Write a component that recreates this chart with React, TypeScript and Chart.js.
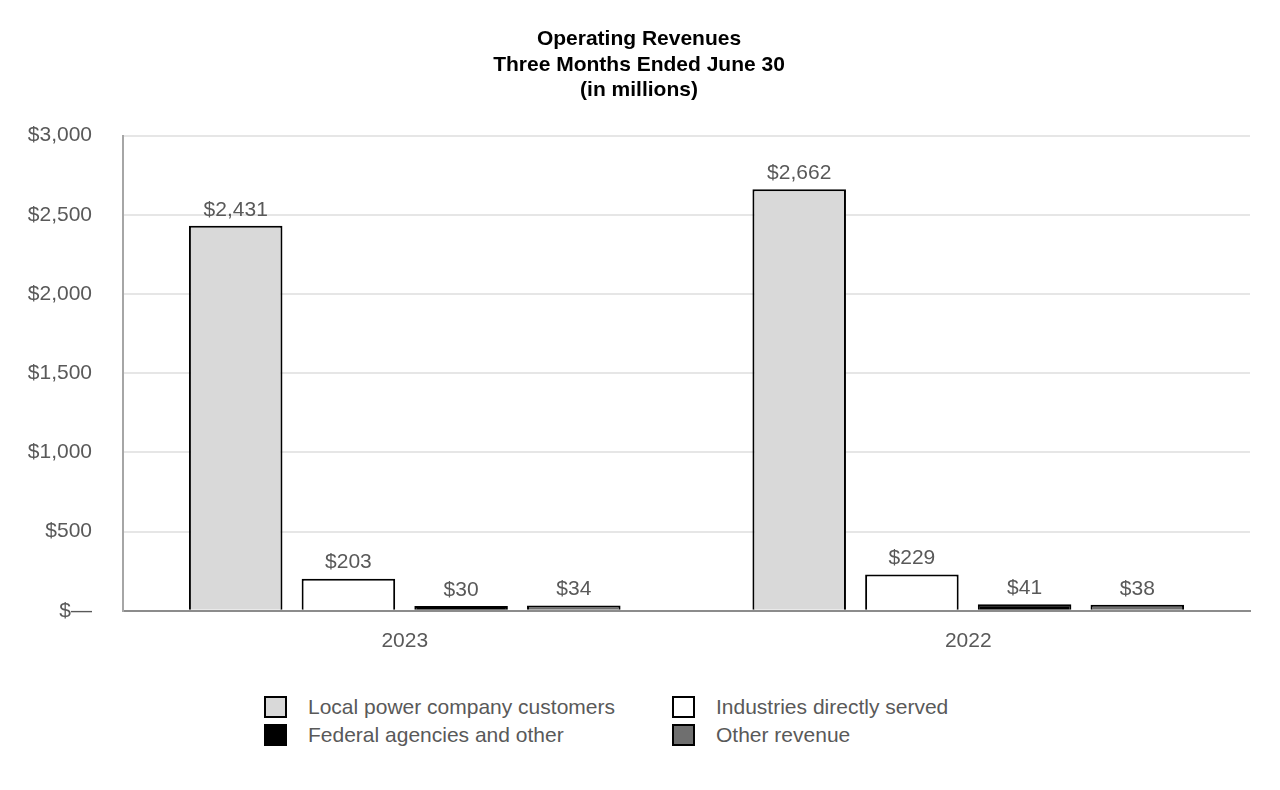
import React, { useEffect, useRef } from "react";
import { Chart, registerables } from "chart.js";

Chart.register(...registerables);

const titleLines = ["Operating Revenues", "Three Months Ended June 30", "(in millions)"];
const categories = ["2023", "2022"];
const seriesNames = [
  "Local power company customers",
  "Industries directly served",
  "Federal agencies and other",
  "Other revenue",
];
const localPower = [2431, 2662];
const industries = [203, 229];
const federal = [30, 41];
const otherRevenue = [34, 38];
const seriesColors = ["#d9d9d9", "#ffffff", "#000000", "#6f6f6f"];
const yTicks = [0, 500, 1000, 1500, 2000, 2500, 3000];

const FONT = "'Liberation Sans', Arial, sans-serif";
const TEXT = "#595959";

const fmt = (v: number) => (v === 0 ? "$—" : "$" + v.toLocaleString("en-US"));

const valueLabels = {
  id: "valueLabels",
  afterDatasetsDraw(chart: any) {
    const ctx = chart.ctx;
    ctx.save();
    ctx.font = `21px ${FONT}`;
    ctx.fillStyle = TEXT;
    ctx.textAlign = "center";
    ctx.textBaseline = "middle";
    chart.data.datasets.forEach((ds: any, i: number) => {
      const meta = chart.getDatasetMeta(i);
      meta.data.forEach((el: any, j: number) => {
        ctx.fillText(fmt(ds.data[j]), el.x, el.y - 16);
      });
    });
    ctx.restore();
  },
};

export default function App() {
  const ref = useRef<HTMLCanvasElement>(null);
  useEffect(() => {
    if (!ref.current) return;
    const seriesData = [localPower, industries, federal, otherRevenue];
    const chart = new Chart(ref.current, {
      type: "bar",
      data: {
        labels: categories,
        datasets: seriesNames.map((name, i) => ({
          label: name,
          data: seriesData[i],
          backgroundColor: seriesColors[i],
          borderColor: "#000000",
          borderWidth: 2,
          borderSkipped: "bottom",
          categoryPercentage: 0.8,
          barPercentage: 0.83,
        })),
      },
      options: {
        animation: false,
        responsive: false,
        devicePixelRatio: 1,
        layout: { padding: { left: 20, right: 22, top: 0, bottom: 17 } },
        plugins: {
          legend: { display: false },
          tooltip: { enabled: false },
          title: {
            display: true,
            text: titleLines,
            color: "#000000",
            font: { family: FONT, size: 21, weight: "bold", lineHeight: 1.2 },
            padding: { top: 19, bottom: 33 },
          },
        },
        scales: {
          x: {
            grid: { display: false, drawTicks: false },
            border: { display: true, color: "#8c8c8c", width: 2 },
            ticks: { color: TEXT, font: { family: FONT, size: 21 }, padding: 18 },
          },
          y: {
            min: 0,
            max: 3000,
            afterBuildTicks: (scale: any) => {
              scale.ticks = yTicks.map((v) => ({ value: v }));
            },
            afterFit: (scale: any) => {
              scale.width = 95;
            },
            grid: { color: "#e6e6e6", lineWidth: 2, drawTicks: false },
            border: { display: true, color: "#a6a6a6", width: 2 },
            ticks: {
              color: TEXT,
              font: { family: FONT, size: 21 },
              padding: 31,
              callback: (v: any) => fmt(Number(v)),
            },
          },
        },
      },
      plugins: [valueLabels],
    });
    return () => chart.destroy();
  }, []);

  const legendItem = (i: number) => (
    <div style={{ display: "flex", alignItems: "center", height: 28 }}>
      <span
        style={{
          display: "inline-block",
          width: 23,
          height: 22,
          background: seriesColors[i],
          border: "2px solid #000",
          boxSizing: "border-box",
          marginRight: 21,
        }}
      />
      <span style={{ color: TEXT, fontFamily: FONT, fontSize: 21, whiteSpace: "nowrap" }}>
        {seriesNames[i]}
      </span>
    </div>
  );

  return (
    <div style={{ position: "relative", width: 1264, height: 770 }}>
      <canvas ref={ref} width={1264} height={681} style={{ display: "block" }} />
      <div
        style={{
          position: "absolute",
          left: 256,
          top: 685,
          display: "grid",
          gridTemplateColumns: "408px 400px",
        }}
      >
        {legendItem(0)}
        {legendItem(1)}
        {legendItem(2)}
        {legendItem(3)}
      </div>
    </div>
  );
}
